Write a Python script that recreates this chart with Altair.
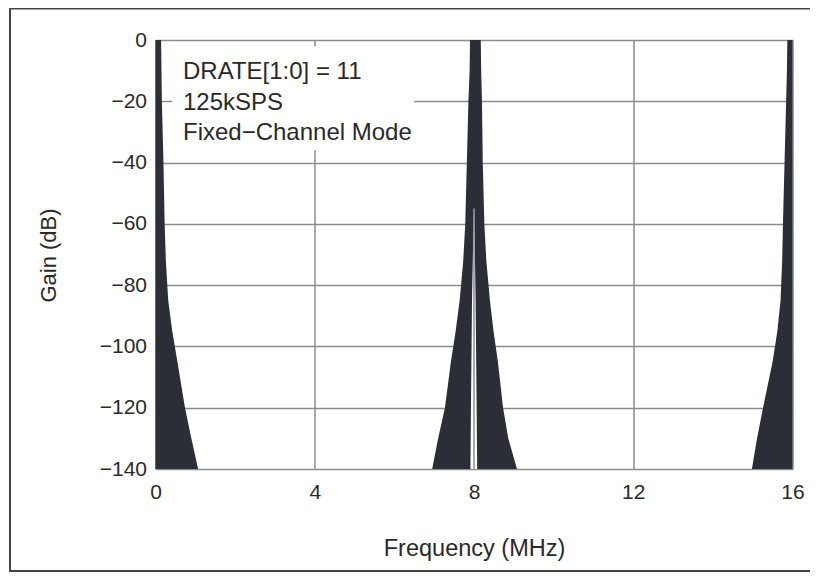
import altair as alt
import pandas as pd

# Envelope of the filter response (dB levels and edge frequencies in MHz)
db_levels = [0, -10, -20, -40, -60, -72, -85, -95, -105, -120, -130, -140]
peak0_right = [0.14, 0.15, 0.16, 0.20, 0.23, 0.26, 0.32, 0.42, 0.55, 0.74, 0.90, 1.07]
peak8_left = [7.90, 7.89, 7.86, 7.82, 7.78, 7.73, 7.64, 7.54, 7.42, 7.27, 7.10, 6.95]
peak8_right = [8.17, 8.18, 8.20, 8.22, 8.26, 8.31, 8.40, 8.49, 8.60, 8.73, 8.86, 9.08]
peak16_left = [15.87, 15.86, 15.84, 15.80, 15.76, 15.74, 15.70, 15.62, 15.50, 15.26, 15.11, 14.98]

# narrow notch visible at exactly 8 MHz
gap_db = [-55, -85, -111, -140]
gap_left = [7.995, 7.95, 7.93, 7.91]
gap_right = [8.005, 8.04, 8.06, 8.08]

x_ticks = [0, 4, 8, 12, 16]
y_ticks = [-140, -120, -100, -80, -60, -40, -20, 0]

notes = ["DRATE[1:0] = 11", "125kSPS", "Fixed\u2212Channel Mode"]
note_db = [-12.8, -22.8, -32.6]

DARK = "#2b2e36"
GRID = "#8c8c8c"
FONT = "Liberation Sans"
TXT = "#2a2a2a"

xs = alt.Scale(domain=[0, 16], nice=False, zero=False)
ys = alt.Scale(domain=[-140, 0], nice=False)

xaxis = alt.Axis(values=x_ticks, title="Frequency (MHz)", grid=True, ticks=False,
                 domain=False, labelPadding=12, labelFontSize=21, titleFontSize=23.5,
                 titleFontWeight="normal", titleX=318.5, titleY=79, labelFlush=False,
                 titleBaseline="middle", labelColor=TXT, titleColor=TXT,
                 labelFont=FONT, titleFont=FONT, gridColor=GRID, gridWidth=1.5)
yaxis = alt.Axis(values=y_ticks, title="Gain (dB)", grid=True, ticks=False,
                 domain=False, labelPadding=9, labelFontSize=21, titleFontSize=22,
                 titleFontWeight="normal", titleX=-107, titleY=215, labelFlush=False,
                 titleAngle=-90, titleAlign="center", titleBaseline="middle",
                 labelColor=TXT, titleColor=TXT, labelFont=FONT,
                 titleFont=FONT, gridColor=GRID, gridWidth=1.5,
                 labelExpr="replace(format(datum.value, 'd'), '-', '\u2212')")


def X(field, **kw):
    return alt.X(field, scale=xs, axis=xaxis, title="Frequency (MHz)", **kw)


def Y(field):
    return alt.Y(field, scale=ys, axis=yaxis, title="Gain (dB)")


def peak(lo, hi):
    df = pd.DataFrame({"db": db_levels, "lo": lo, "hi": hi})
    return alt.Chart(df).mark_area(orient="horizontal", color=DARK).encode(
        y=Y("db:Q"), x=X("lo:Q", stack=None), x2="hi:Q")


p0 = peak([0.0] * len(db_levels), peak0_right)
p8 = peak(peak8_left, peak8_right)
p16 = peak(peak16_left, [16.0] * len(db_levels))

gap = pd.DataFrame({"db": gap_db, "lo": gap_left, "hi": gap_right})
gap_area = alt.Chart(gap).mark_area(orient="horizontal", color="white").encode(
    y=Y("db:Q"), x=X("lo:Q", stack=None), x2="hi:Q")

gap_rule = alt.Chart(pd.DataFrame({"x": [8], "y": [gap_db[0]], "y2": [-140]})).mark_rule(
    color=GRID, strokeWidth=1.5).encode(x=X("x:Q"), y=Y("y:Q"), y2="y2:Q")

box_df = pd.DataFrame({"x": [0.42], "x2": [6.5], "y": [-2.0], "y2": [-36.0]})
box = alt.Chart(box_df).mark_rect(color="white").encode(
    x=X("x:Q"), x2="x2:Q", y=Y("y:Q"), y2="y2:Q")

note_df = pd.DataFrame({"text": notes, "db": note_db, "x": [0.69] * 3})
text = alt.Chart(note_df).mark_text(align="left", baseline="alphabetic", fontSize=24,
                                    font=FONT, color=TXT).encode(
    x=X("x:Q"), y=Y("db:Q"), text="text:N")

frame = alt.Chart(pd.DataFrame({"a": [0]})).mark_rect(
    fill=None, stroke="#444", strokeWidth=2).encode(
    x=alt.value(-145.5), x2=alt.value(700), y=alt.value(-31.5), y2=alt.value(531))

chart = alt.layer(p0, p8, p16, gap_area, gap_rule, box, text, frame).properties(
    width=637, height=429,
    autosize=alt.AutoSizeParams(type="none"),
    padding={"left": 147.5, "top": 32, "right": 17, "bottom": 104},
).configure_view(stroke="#7a7a7a", strokeWidth=1.5).configure(background="white")

chart.save("out.html", embed_options={"renderer": "svg", "actions": False})
